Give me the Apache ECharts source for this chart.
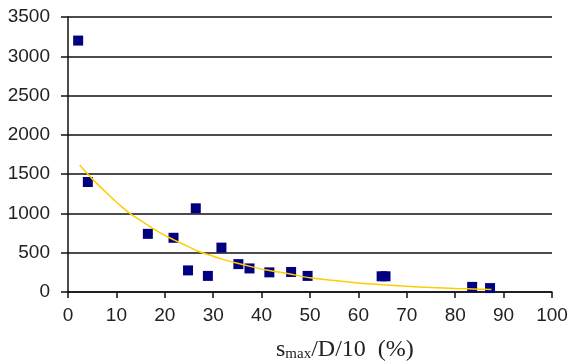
<!DOCTYPE html>
<html>
<head>
<meta charset="utf-8">
<script src="https://cdn.jsdelivr.net/npm/echarts@6/dist/echarts.min.js"></script>
<style>
  html, body { margin: 0; padding: 0; background: #fff; }
  #chart { width: 571px; height: 363px; }
</style>
</head>
<body>
<div id="chart"></div>
<script>
// Measured points: relative settlement (%) vs. value
const smaxPct = [2.1, 4.1, 16.5, 21.8, 24.8, 26.4, 28.9, 31.7, 35.2, 37.5, 41.6, 46.1, 49.5, 64.8, 65.6, 83.5, 87.2];
const values  = [3200, 1400, 740, 690, 275, 1065, 205, 565, 355, 300, 250, 255, 205, 200, 200, 65, 50];

// Trend curve sampled along its course
const trendX = [2.4, 5, 8, 11, 13, 16, 18, 20, 22, 25, 27, 30, 32, 35, 38, 41, 45, 50, 55, 60, 65, 70, 75, 80, 85, 87.5];
const trendY = [1615, 1440, 1260, 1090, 990, 870, 790, 720, 660, 575, 515, 455, 415, 365, 320, 280, 240, 180, 145, 115, 92, 73, 58, 46, 36, 32];

// Axis ticks
const xTicks = [0, 10, 20, 30, 40, 50, 60, 70, 80, 90, 100];
const yTicks = [0, 500, 1000, 1500, 2000, 2500, 3000, 3500];

const points = smaxPct.map((x, i) => [x, values[i]]);
const trend = trendX.map((x, i) => [x, trendY[i]]);

const labelFont = { fontFamily: 'Liberation Sans', fontSize: 19, color: '#222' };

const chart = echarts.init(document.getElementById('chart'), null, { renderer: 'canvas' });
chart.setOption({
  animation: false,
  backgroundColor: '#fff',
  grid: { left: 68, right: 19, top: 17, bottom: 71 },
  title: {
    left: 276,
    top: 338,
    padding: 0,
    text: '{m|s}{sub|max}{m|/D/10  (%)}',
    textStyle: {
      fontWeight: 'normal',
      rich: {
        m: { fontFamily: 'Liberation Serif', fontSize: 24, fontWeight: 'normal', lineHeight: 24, color: '#222', verticalAlign: 'bottom' },
        sub: { fontFamily: 'Liberation Serif', fontSize: 15, fontWeight: 'normal', lineHeight: 11, color: '#222', verticalAlign: 'bottom' }
      }
    }
  },
  xAxis: {
    type: 'value',
    min: xTicks[0],
    max: xTicks[xTicks.length - 1],
    interval: xTicks[1] - xTicks[0],
    axisLine: { show: true, lineStyle: { color: '#111', width: 1.5 } },
    axisTick: { show: true, length: 6, lineStyle: { color: '#111', width: 1.5 } },
    splitLine: { show: false },
    axisLabel: Object.assign({ margin: 14, formatter: v => String(v) }, labelFont)
  },
  yAxis: {
    type: 'value',
    min: yTicks[0],
    max: yTicks[yTicks.length - 1],
    interval: yTicks[1] - yTicks[0],
    axisLine: { show: true, lineStyle: { color: '#111', width: 1.5 } },
    axisTick: { show: true, length: 7, lineStyle: { color: '#111', width: 1.5 } },
    splitLine: { show: true, lineStyle: { color: '#111', width: 1.5 } },
    axisLabel: Object.assign({ margin: 18, formatter: v => String(v) }, labelFont)
  },
  series: [
    {
      type: 'scatter',
      data: points,
      symbol: 'rect',
      symbolSize: 10,
      itemStyle: { color: '#000080', opacity: 1 },
      z: 2
    },
    {
      type: 'line',
      data: trend,
      smooth: 0.3,
      showSymbol: false,
      symbol: 'none',
      lineStyle: { color: '#FFCC00', width: 1.5 },
      z: 3
    }
  ]
});
</script>
</body>
</html>
